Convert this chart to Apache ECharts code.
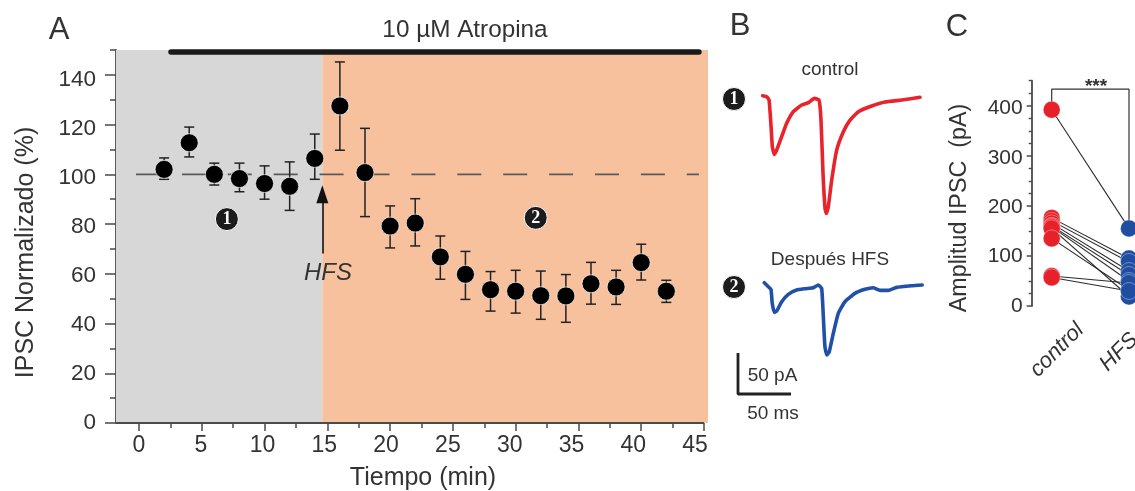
<!DOCTYPE html>
<html><head><meta charset="utf-8">
<style>html,body{margin:0;padding:0;background:#fff}#c{width:1135px;height:491px}</style>
<script src="https://cdn.jsdelivr.net/npm/echarts@6/dist/echarts.min.js"></script>
</head><body><div id="c"></div>
<script>
// Panel A
const tiempo=[2,4,6,8,10,12,14,16,18,20,22,24,26,28,30,32,34,36,38,40,42];
const ipsc=[102,112.7,100,98.3,96.3,95.2,106.4,127.5,100.7,79.2,80.4,66.8,59.8,53.6,53,51.2,51.1,56,54.7,64.5,53];
const ipscTop=[106.6,119,104.5,104.5,103.4,105,116.2,145.2,118.5,87.3,90.2,75.2,69,60.9,61.4,61.1,59.7,64.6,61.4,71.9,57.4];
const ipscBot=[98,107,95.7,93,90,85.5,98,109.7,83,70.4,71.2,57.8,49.7,45,44.2,41.7,40.5,47.8,47.7,57.5,48.5];
const xMajor=[0,5,10,15,20,25,30,35,40,45];
const xMinor=[2.5,7.5,12.5,17.5,22.5,27.5,32.5,37.5,42.5];
const yMajor=[0,20,40,60,80,100,120,140];
const yMinor=[10,30,50,70,90,110,130,150];
const hfsTime=14.6, xMin=-1.832, xMax=45.32;
const phaseMarkers=[[7,82,'1'],[31.6,82.5,'2']];
// Panel B (ms, pA from baseline)
const redMs=[0,3.8,6,7.9,9.1,11,13.2,17.9,22.6,28.9,36.8,43.1,48.7,53.1,55,56.9,58.8,60.1,61.9,65.1,69.8,76.1,82.4,90.3,102.8,115.4,131.1,148.4];
const redPA=[0,-1.2,-5.3,-37.8,-62.2,-71.5,-66.3,-50,-33.7,-19.5,-11.4,-8.5,-3.3,-5.3,-29.7,-94.7,-137.4,-143.5,-135.4,-102.8,-66.3,-43.9,-29.7,-19.5,-12.6,-7.7,-5.3,-2];
const blueMs=[0,3.8,6.3,7.5,9.4,11.9,16.4,22.6,30.5,38.4,46.2,50.9,54.1,55.7,57.2,59.1,61.3,65.1,69.8,76.1,85.5,95,102.8,109.1,117,124.8,139,149];
const bluePA=[0,-4.9,-8.1,-25.2,-36.2,-34.1,-23.2,-14.2,-8.9,-7.3,-6.1,-2.8,-6.9,-41.5,-78,-88.2,-84.1,-61.8,-37.4,-23.2,-13,-8.1,-6.1,-9.3,-9.3,-5.7,-3.7,-2.8];
const scaleMs=[0,0,50], scalePA=[50,0,0];
// Panel C (paired cells)
const groups=['control','HFS'];
const controlAmp=[392,176,170,165,160,158,155,135,60,57];
const hfsAmp=[155,95,88,70,62,50,19,32,46,30];
const bracket=[392,433,433,155];
const cMajor=[0,100,200,300,400];
const cMinor=[25,50,75,125,150,175,225,250,275,325,350,375,425,450];

const ink='#333', axisC='#4a4a4a', font='"Liberation Sans",Arial,sans-serif';
const T=(text,x,y,size,extra)=>({type:'text',x,y,silent:true,z:50,rotation:(extra&&extra.rot)||0,
  style:Object.assign({text,fontSize:size,fontFamily:font,fill:ink,align:'center',verticalAlign:'middle'},extra&&extra.style)});
const badge=(x,y,t)=>({type:'group',x,y,z:50,children:[
  {type:'circle',shape:{cx:0,cy:0,r:11.5},style:{fill:'#1c1c1c',stroke:'#fff',lineWidth:1}},
  {type:'text',style:{text:t,x:0,y:0,align:'center',verticalAlign:'middle',fontSize:18,fontWeight:'bold',fontFamily:'"Liberation Serif",serif',fill:'#fff'}}]});
const hidX=(gi,min,max)=>({type:'value',gridIndex:gi,min,max,show:false});
const hidY=(gi,min,max)=>({type:'value',gridIndex:gi,min,max,show:false});

const chart=echarts.init(document.getElementById('c'),null,{renderer:'canvas'});
const pairSeries=controlAmp.map((v,i)=>({type:'line',xAxisIndex:5,yAxisIndex:5,data:[[0,v],[1,hfsAmp[i]]],
  symbol:'none',silent:true,z:3,clip:false,lineStyle:{color:'#2b2b2b',width:1.1}}));
chart.setOption({
  animation:false,backgroundColor:'#fff',
  grid:[
    {left:116,top:50,width:592,height:373},
    {left:762.7,top:95.7,width:159,height:123},
    {left:764.3,top:282.7,width:159,height:123},
    {left:738,top:353,width:53,height:41},
    {left:1031.7,top:80.7,width:103.3,height:225.3}
  ],
  xAxis:[
    {type:'value',gridIndex:0,min:xMin,max:xMax,splitLine:{show:false},position:'bottom',
      axisLine:{show:false,onZero:false},axisLabel:{show:false},
      axisTick:{show:true,customValues:xMajor,length:8,lineStyle:{color:axisC,width:1.5}}},
    {type:'value',gridIndex:0,min:xMin,max:xMax,splitLine:{show:false},position:'bottom',
      axisLine:{show:false,onZero:false},axisLabel:{show:false},
      axisTick:{show:true,customValues:xMinor,length:5,lineStyle:{color:axisC,width:1.5}}},
    hidX(1,0,150),hidX(2,0,150),hidX(3,0,50),
    hidX(4,-0.2587,1.0777),
    // tick labels of panel A sit on the reference's slightly compressed label scale
    {type:'value',gridIndex:0,min:-1.861,max:46.05,splitLine:{show:false},position:'bottom',
      axisLine:{show:false,onZero:false},axisTick:{show:false},
      axisLabel:{customValues:xMajor,fontSize:23,color:ink,fontFamily:font,margin:11}}
  ],
  yAxis:[
    {type:'value',gridIndex:0,min:0,max:150,splitLine:{show:false},
      axisLine:{show:true,onZero:false,lineStyle:{color:axisC,width:1.8}},axisLabel:{show:false},
      axisTick:{show:true,customValues:yMajor,length:11,lineStyle:{color:axisC,width:1.5}}},
    {type:'value',gridIndex:0,min:0,max:150,splitLine:{show:false},position:'left',
      axisLine:{show:false,onZero:false},axisLabel:{show:false},
      axisTick:{show:true,customValues:yMinor,length:6,lineStyle:{color:axisC,width:1.5}}},
    hidY(1,-150,0),hidY(2,-150,0),hidY(3,0,50),
    {type:'value',gridIndex:4,min:0,max:450,splitLine:{show:false},
      axisLine:{show:true,onZero:false,lineStyle:{color:axisC,width:1.8}},axisLabel:{show:false},
      axisTick:{show:true,customValues:cMajor,length:5,lineStyle:{color:axisC,width:1.5}}},
    {type:'value',gridIndex:4,min:0,max:450,position:'left',splitLine:{show:false},
      axisLine:{show:false,onZero:false},axisLabel:{show:false},
      axisTick:{show:true,customValues:cMinor,length:3,lineStyle:{color:axisC,width:1.4}}},
    {type:'value',gridIndex:0,min:0,max:152.2,position:'left',splitLine:{show:false},
      axisLine:{show:false,onZero:false},axisTick:{show:false},
      axisLabel:{customValues:yMajor,fontSize:22.5,color:ink,fontFamily:font,margin:20}},
    {type:'value',gridIndex:4,min:0,max:456,position:'left',splitLine:{show:false},
      axisLine:{show:false,onZero:false},axisTick:{show:false},
      axisLabel:{customValues:cMajor,fontSize:21,color:ink,fontFamily:font,margin:9}}
  ],
  series:[
    {type:'line',data:[],xAxisIndex:0,yAxisIndex:0,silent:true,z:1,
      markArea:{silent:true,data:[
        [{coord:[xMin,0],itemStyle:{color:'#d7d7d7'}},{coord:[hfsTime,150]}],
        [{coord:[hfsTime,0],itemStyle:{color:'#f7c19e'}},{coord:[xMax,150]}]]}},
    {type:'line',xAxisIndex:0,yAxisIndex:0,data:[[xMin,0],[45,0]],symbol:'none',silent:true,clip:false,z:3,
      lineStyle:{color:axisC,width:1.8}},
    {type:'line',xAxisIndex:0,yAxisIndex:0,data:[[-0.24,100],[44.6,100]],symbol:'none',silent:true,z:2,
      lineStyle:{color:'#5a5a5a',width:1.8,type:[24,21.9]}},
    {type:'line',xAxisIndex:0,yAxisIndex:0,data:[[2.55,149.2],[44.6,149.2]],symbol:'none',silent:true,clip:false,z:6,
      lineStyle:{color:'#1a1a1a',width:5.5,cap:'round'}},
    {type:'line',data:[],xAxisIndex:0,yAxisIndex:0,silent:true,z:4,
      markLine:{silent:true,animation:false,symbol:['none','triangle'],symbolSize:[12,18],label:{show:false},
        lineStyle:{color:'#111',width:1.6,type:'solid'},
        data:[[{coord:[hfsTime,68.2]},{coord:[hfsTime,92]}]]}},
    {type:'custom',xAxisIndex:0,yAxisIndex:0,z:4,silent:true,
      data:tiempo.map((t,i)=>[t,ipscBot[i],ipscTop[i]]),
      encode:{x:0,y:[1,2]},
      renderItem:(p,api)=>{
        const a=api.coord([api.value(0),api.value(1)]),b=api.coord([api.value(0),api.value(2)]);
        const st={stroke:'#222',lineWidth:1.5,fill:null};
        return {type:'group',children:[
          {type:'line',shape:{x1:a[0],y1:a[1],x2:b[0],y2:b[1]},style:st},
          {type:'line',shape:{x1:a[0]-5,y1:a[1],x2:a[0]+5,y2:a[1]},style:st},
          {type:'line',shape:{x1:b[0]-5,y1:b[1],x2:b[0]+5,y2:b[1]},style:st}]};
      }},
    {type:'scatter',xAxisIndex:0,yAxisIndex:0,z:5,silent:true,symbolSize:18,
      data:tiempo.map((t,i)=>[t,ipsc[i]]),
      itemStyle:{color:'#000',borderColor:'rgba(255,255,255,.65)',borderWidth:1,opacity:1}},
    {type:'scatter',xAxisIndex:0,yAxisIndex:0,z:5,silent:true,symbolSize:23,
      data:phaseMarkers,
      itemStyle:{color:'#1c1c1c',borderColor:'#fff',borderWidth:1,opacity:1},
      label:{show:true,position:'inside',formatter:p=>p.value[2],color:'#fff',fontSize:18,fontWeight:'bold',fontFamily:'"Liberation Serif",serif'}},
    {type:'line',xAxisIndex:2,yAxisIndex:2,data:redMs.map((t,i)=>[t,redPA[i]]),symbol:'none',smooth:0.15,silent:true,clip:false,
      lineStyle:{color:'#e8232b',width:3.6,cap:'round',join:'round'}},
    {type:'line',xAxisIndex:3,yAxisIndex:3,data:blueMs.map((t,i)=>[t,bluePA[i]]),symbol:'none',smooth:0.15,silent:true,clip:false,
      lineStyle:{color:'#2151a6',width:3.6,cap:'round',join:'round'}},
    {type:'line',xAxisIndex:4,yAxisIndex:4,data:scaleMs.map((t,i)=>[t,scalePA[i]]),symbol:'none',silent:true,clip:false,
      lineStyle:{color:'#222',width:2.8}},
    ...pairSeries,
    {type:'line',xAxisIndex:5,yAxisIndex:5,data:[[0,bracket[0]],[0,bracket[1]],[1,bracket[2]],[1,bracket[3]]],
      symbol:'none',silent:true,z:3,clip:false,lineStyle:{color:'#333',width:1.2}},
    {type:'scatter',xAxisIndex:5,yAxisIndex:5,z:5,silent:true,symbolSize:17,clip:false,
      data:controlAmp.map(v=>[0,v]),itemStyle:{color:'#e8202a',borderColor:'rgba(255,255,255,.35)',borderWidth:1,opacity:1}},
    {type:'scatter',xAxisIndex:5,yAxisIndex:5,z:5,silent:true,symbolSize:17,clip:false,
      data:hfsAmp.map(v=>[1,v]),itemStyle:{color:'#1f4ea1',borderColor:'rgba(255,255,255,.35)',borderWidth:1,opacity:1}}
  ],
  graphic:{elements:[
    T('A',59,30,31),T('B',740,26,31),T('C',957,27,31),
    T('10 µM Atropina',465,30,24.3),
    T('IPSC Normalizado (%)',26,252.5,25,{rot:Math.PI/2}),
    T('Tiempo (min)',423,478,25),
    T('HFS',328,273,24,{style:{fontStyle:'italic'}}),
    T('control',830,70,19),T('Después HFS',830,260,19),
    badge(734,99,'1'),badge(734,287,'2'),
    T('50 pA',772.5,376,19),T('50 ms',773,414,19),
    T('Amplitud IPSC  (pA)',960,208,23.3,{rot:Math.PI/2}),
    T('***',1096,87,19,{style:{fontWeight:'bold'}}),
    T(groups[0],1057,350,22,{rot:Math.PI/4,style:{fontStyle:'italic'}}),
    T(groups[1],1119,352,22,{rot:Math.PI/4,style:{fontStyle:'italic'}})
  ]}
});
</script></body></html>
